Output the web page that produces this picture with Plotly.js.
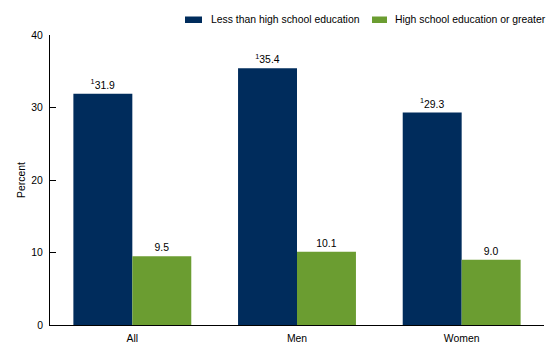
<!DOCTYPE html>
<html><head><meta charset="utf-8">
<script src="https://cdn.plot.ly/plotly-3.0.1.min.js"></script>
<style>html,body{margin:0;padding:0;background:#fff}#chart{width:560px;height:358px}</style>
</head><body><div id="chart"></div>
<script>
const categories = ["All", "Men", "Women"];
const lessThanHS = [31.9, 35.4, 29.3];
const hsOrGreater = [9.5, 10.1, 9.0];
const lessThanHSFlags = ["1", "1", "1"];
const seriesNames = ["Less than high school education", "High school education or greater"];
const seriesColors = ["#002c5c", "#6b9d31"];
const yTicks = [0, 10, 20, 30, 40];

const W = 560, H = 358;
const M = {l: 50, r: 16, t: 35, b: 33};
const PW = W - M.l - M.r, PH = H - M.t - M.b;
const px = x => (x - M.l) / PW;          // pixel -> paper x
const py = y => (H - M.b - y) / PH;      // pixel -> paper y

const font = {family: "Liberation Sans, Arial, sans-serif", size: 10.4, color: "#000"};
const traces = [
  {type: "bar", name: seriesNames[0], x: categories, y: lessThanHS,
   marker: {color: seriesColors[0]},
   text: lessThanHS.map((v, i) => "<sup>" + lessThanHSFlags[i] + "</sup>" + v.toFixed(1)),
   textposition: "outside", textfont: font, cliponaxis: false, hoverinfo: "none", showlegend: false},
  {type: "bar", name: seriesNames[1], x: categories, y: hsOrGreater,
   marker: {color: seriesColors[1]},
   text: hsOrGreater.map(v => v.toFixed(1)),
   textposition: "outside", textfont: font, cliponaxis: false, hoverinfo: "none", showlegend: false}
];

// custom legend (wide, short swatches as in the reference)
const legendItems = [{sx0: 185, sx1: 202, tx: 209}, {sx0: 372, sx1: 387, tx: 393}];
const shapes = legendItems.map((it, i) => ({
  type: "rect", xref: "paper", yref: "paper",
  x0: px(it.sx0), x1: px(it.sx1), y0: py(23), y1: py(16.5),
  fillcolor: seriesColors[i], line: {width: 0}
}));
const annotations = legendItems.map((it, i) => ({
  xref: "paper", yref: "paper", x: px(it.tx), y: py(19.8),
  xanchor: "left", yanchor: "middle", showarrow: false,
  text: seriesNames[i], font: font
}));

const layout = {
  width: W, height: H,
  margin: Object.assign({autoexpand: false}, M),
  paper_bgcolor: "#fff", plot_bgcolor: "#fff",
  font: font,
  barmode: "group", bargap: 0.284, bargroupgap: 0,
  showlegend: false,
  shapes: shapes, annotations: annotations,
  xaxis: {range: [-0.5, 2.5], showline: true, linecolor: "#000", linewidth: 1,
          ticks: "", tickfont: font, ticklabelstandoff: 4,
          showgrid: false, zeroline: false, fixedrange: true, automargin: false},
  yaxis: {range: [0, 40], tickvals: yTicks, ticktext: yTicks.map(String),
          showline: true, linecolor: "#000", linewidth: 1,
          ticks: "inside", ticklen: 6, tickcolor: "#000", tickfont: font,
          ticklabelstandoff: 4, automargin: false,
          showgrid: false, zeroline: false, fixedrange: true,
          title: {text: "Percent", font: font, standoff: 3}}
};
Plotly.newPlot("chart", traces, layout, {displayModeBar: false, staticPlot: true});
</script></body></html>
